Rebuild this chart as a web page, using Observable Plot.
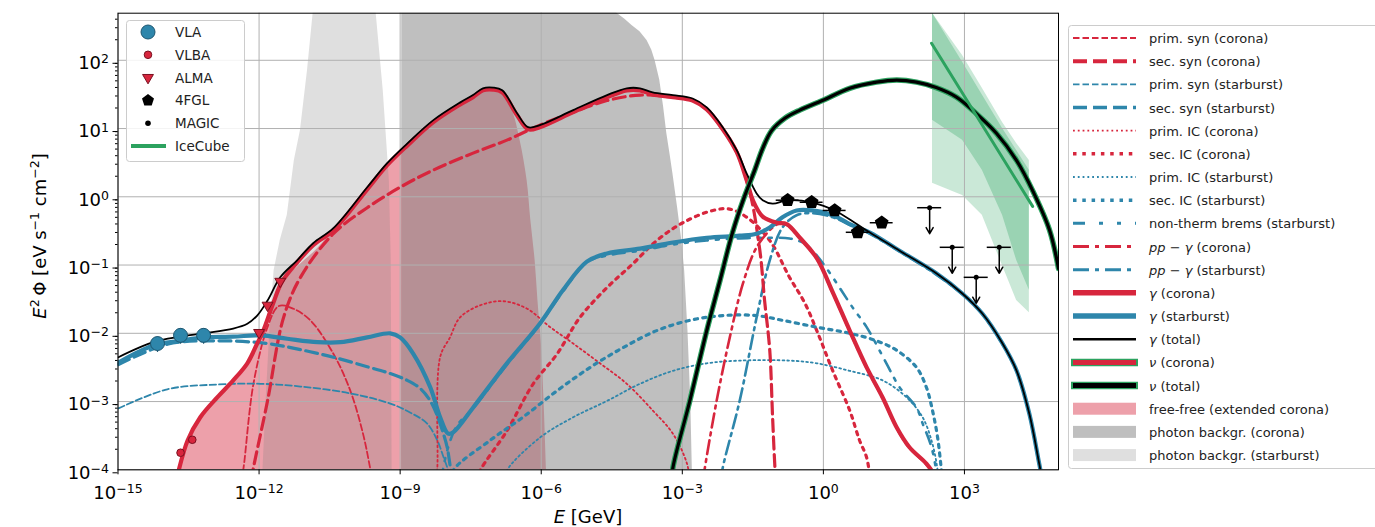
<!DOCTYPE html>
<html><head><meta charset="utf-8">
<script src="https://cdn.jsdelivr.net/npm/d3@7"></script>
<script src="https://cdn.jsdelivr.net/npm/@observablehq/plot@0.6"></script>
<style>
body{margin:0;background:#fff;font-family:"DejaVu Sans",sans-serif;}
#wrap{position:relative;width:1375px;height:527px;overflow:hidden;background:#fff;}
#wrap svg{position:absolute;left:0;top:0;}
</style></head><body><div id="wrap"></div>
<script>
// All curves: [log10 E/GeV, log10 E^2 Phi / (eV s^-1 cm^-2)]
const gammaTotal = [[-14.99,-2.35],[-14.25,-2.13],[-13.67,-2.05],[-13.18,-2.00],[-12.55,-1.93],[-12.25,-1.86],[-12.04,-1.74],[-11.82,-1.52],[-11.55,-1.18],[-11.19,-0.93],[-10.85,-0.68],[-10.42,-0.46],[-9.70,0.14],[-9.28,0.49],[-8.85,0.78],[-8.30,1.12],[-7.73,1.38],[-7.45,1.49],[-7.24,1.59],[-7.02,1.60],[-6.83,1.56],[-6.51,1.22],[-6.28,1.02],[-6.03,1.05],[-5.32,1.27],[-4.60,1.49],[-4.18,1.59],[-3.90,1.59],[-3.63,1.53],[-3.20,1.49],[-2.78,1.44],[-2.48,1.31],[-2.14,1.02],[-1.84,0.68],[-1.63,0.34],[-1.42,0.05],[-1.29,-0.05],[-1.08,-0.10],[-0.76,-0.05],[-0.25,-0.08],[0.24,-0.20],[0.71,-0.40],[0.98,-0.52],[1.62,-0.79],[2.40,-1.12],[2.96,-1.42],[3.38,-1.71],[3.81,-2.15],[4.11,-2.55],[4.38,-3.18],[4.59,-3.91],[4.66,-4.16]];
const gammaCorona = [[-13.76,-4.16],[-13.71,-4.01],[-13.52,-3.57],[-13.25,-3.23],[-12.89,-2.94],[-12.55,-2.69],[-12.25,-2.44],[-12.04,-2.15],[-11.91,-1.96],[-11.70,-1.56],[-11.51,-1.24],[-11.19,-0.96],[-10.85,-0.71],[-10.42,-0.49],[-9.70,0.11],[-9.28,0.46],[-8.85,0.75],[-8.30,1.09],[-7.73,1.35],[-7.45,1.46],[-7.24,1.56],[-7.02,1.57],[-6.83,1.53],[-6.51,1.19],[-6.28,0.99],[-6.03,1.02],[-5.32,1.24],[-4.60,1.46],[-4.18,1.56],[-3.90,1.56],[-3.63,1.50],[-3.20,1.46],[-2.78,1.41],[-2.48,1.28],[-2.14,0.99],[-1.84,0.65],[-1.63,0.24],[-1.50,-0.05],[-1.29,-0.29],[-0.99,-0.38],[-0.78,-0.40],[-0.50,-0.60],[-0.14,-0.90],[0.20,-1.40],[0.56,-1.96],[0.92,-2.50],[1.26,-2.94],[1.56,-3.38],[1.83,-3.67],[2.19,-3.91],[2.36,-4.08],[2.40,-4.2]];
const gammaStarburst = [[-14.99,-2.43],[-14.25,-2.18],[-13.67,-2.11],[-13.18,-2.06],[-12.55,-2.05],[-11.97,-2.03],[-11.40,-2.08],[-10.76,-2.13],[-10.27,-2.13],[-9.70,-2.06],[-9.21,-2.00],[-9.00,-2.06],[-8.72,-2.30],[-8.36,-2.79],[-8.15,-3.23],[-7.98,-3.47],[-7.87,-3.45],[-7.45,-3.09],[-6.73,-2.44],[-6.03,-1.86],[-5.54,-1.37],[-5.03,-0.95],[-4.60,-0.83],[-3.90,-0.76],[-3.20,-0.67],[-2.48,-0.60],[-1.78,-0.57],[-1.42,-0.54],[-1.14,-0.45],[-0.87,-0.30],[-0.57,-0.20],[-0.23,-0.20],[0.20,-0.27],[0.62,-0.42],[0.98,-0.52],[1.62,-0.79],[2.40,-1.12],[2.96,-1.42],[3.38,-1.71],[3.81,-2.15],[4.11,-2.55],[4.38,-3.18],[4.59,-3.91],[4.66,-4.16]];
const secSynStarburst = [[-14.99,-2.46],[-13.95,-2.16],[-12.89,-2.11],[-11.82,-2.15],[-11.12,-2.24],[-10.42,-2.35],[-9.70,-2.49],[-9.21,-2.59],[-8.85,-2.69],[-8.57,-2.81],[-8.36,-2.99],[-8.21,-3.21],[-8.09,-3.45],[-8.00,-3.67],[-7.92,-4.01],[-7.87,-4.16]];
const primSynStarburst = [[-14.99,-3.10],[-13.95,-2.82],[-12.89,-2.75],[-11.97,-2.74],[-11.12,-2.78],[-10.06,-2.88],[-9.21,-3.03],[-8.79,-3.16],[-8.43,-3.32],[-8.21,-3.57],[-8.09,-3.79],[-7.98,-4.01],[-7.94,-4.16]];
const primSynCorona = [[-12.38,-4.16],[-12.33,-3.97],[-12.12,-2.74],[-11.82,-1.91],[-11.58,-1.60],[-11.27,-1.64],[-10.91,-1.81],[-10.42,-2.30],[-10.06,-2.84],[-9.79,-3.47],[-9.64,-3.97],[-9.59,-4.16]];
const secSynCorona = [[-12.17,-4.16],[-12.12,-3.97],[-11.82,-2.99],[-11.48,-1.77],[-11.12,-1.18],[-10.42,-0.54],[-9.70,-0.16],[-9.00,0.14],[-8.30,0.39],[-7.45,0.64],[-6.73,0.83],[-6.03,1.05],[-5.32,1.24],[-4.60,1.41],[-3.90,1.49],[-3.20,1.46],[-2.78,1.41],[-2.48,1.28],[-2.14,0.99],[-1.84,0.65],[-1.57,0.09],[-1.35,-0.79],[-1.25,-1.52],[-1.14,-2.25],[-1.08,-3.23],[-1.03,-3.97],[-1.01,-4.16]];
const primICCorona = [[-8.24,-4.16],[-8.21,-3.97],[-8.15,-2.35],[-7.94,-2.06],[-7.73,-1.77],[-7.30,-1.59],[-6.81,-1.53],[-6.30,-1.64],[-5.81,-1.91],[-5.32,-2.15],[-4.75,-2.44],[-4.18,-2.74],[-3.63,-3.13],[-3.20,-3.47],[-2.90,-3.91],[-2.84,-4.16]];
const secICCorona = [[-7.38,-4.16],[-7.30,-4.01],[-6.73,-3.43],[-6.17,-2.74],[-5.66,-2.30],[-5.18,-1.77],[-4.60,-1.33],[-4.05,-0.98],[-3.54,-0.64],[-2.99,-0.38],[-2.35,-0.20],[-1.99,-0.18],[-1.63,-0.30],[-1.14,-0.64],[-0.72,-1.18],[-0.40,-1.55],[-0.14,-1.96],[0.20,-2.55],[0.56,-3.13],[0.77,-3.57],[0.92,-3.82],[1.0,-4.16]];
const primICStarburst = [[-6.77,-4.16],[-6.73,-4.01],[-6.03,-3.53],[-5.32,-3.23],[-4.60,-2.99],[-3.90,-2.74],[-3.20,-2.55],[-2.48,-2.44],[-1.78,-2.40],[-0.72,-2.40],[-0.14,-2.44],[0.56,-2.55],[1.26,-2.69],[1.77,-2.94],[2.11,-3.23],[2.32,-3.62],[2.43,-4.01],[2.45,-4.16]];
const secICStarburst = [[-7.89,-4.16],[-7.87,-4.01],[-7.09,-3.57],[-6.39,-3.23],[-5.66,-2.84],[-4.96,-2.50],[-4.26,-2.21],[-3.54,-1.96],[-2.84,-1.81],[-2.14,-1.74],[-1.42,-1.74],[-0.87,-1.81],[-0.14,-1.91],[0.56,-2.00],[1.13,-2.11],[1.56,-2.25],[1.98,-2.50],[2.19,-2.79],[2.32,-3.13],[2.43,-3.53],[2.51,-4.01],[2.53,-4.16]];
const bremsStarburst = [[-8.13,-4.16],[-8.00,-3.72],[-7.79,-3.35],[-7.45,-3.10],[-6.73,-2.46],[-6.03,-1.87],[-5.54,-1.39],[-5.03,-0.96],[-4.60,-0.86],[-3.90,-0.79],[-3.20,-0.70],[-2.48,-0.64],[-1.78,-0.61],[-1.14,-0.60],[-0.72,-0.61],[-0.44,-0.67],[-0.23,-0.79],[0.07,-1.05],[0.62,-1.62],[0.92,-1.91],[1.34,-2.44],[1.62,-2.79],[1.98,-3.09],[2.11,-3.32],[2.30,-3.67],[2.40,-4.01],[2.43,-4.16]];
const ppCorona = [[-2.56,-4.16],[-2.52,-3.97],[-2.27,-2.99],[-1.99,-2.06],[-1.71,-1.27],[-1.42,-0.74],[-1.08,-0.45],[-0.93,-0.39],[-0.78,-0.41],[-0.50,-0.61],[-0.14,-0.91],[0.20,-1.41],[0.56,-1.97],[0.92,-2.51],[1.26,-2.95],[1.56,-3.39],[1.83,-3.68],[2.19,-3.92],[2.36,-4.1]];
const ppStarburst = [[-2.18,-4.16],[-2.14,-3.97],[-1.78,-2.99],[-1.42,-1.77],[-1.14,-0.93],[-0.87,-0.45],[-0.57,-0.27],[-0.23,-0.24],[0.20,-0.30],[0.62,-0.43],[0.98,-0.54],[1.62,-0.80],[2.40,-1.14],[2.96,-1.43],[3.38,-1.72],[3.81,-2.16],[4.11,-2.56],[4.38,-3.19],[4.59,-3.93],[4.66,-4.16]];
const nuTotal = [[-3.22,-4.16],[-3.20,-3.97],[-2.84,-2.99],[-2.48,-1.96],[-2.20,-1.23],[-1.93,-0.52],[-1.69,-0.02],[-1.46,0.39],[-1.29,0.71],[-1.10,0.97],[-0.82,1.15],[-0.50,1.27],[-0.02,1.41],[0.56,1.59],[1.13,1.68],[1.56,1.71],[1.98,1.68],[2.40,1.60],[2.83,1.46],[3.25,1.22],[3.68,0.93],[4.11,0.53],[4.45,0.09],[4.81,-0.49],[5.0,-1.05]];
// shaded regions: upper edge [log10 E, log10 E^2 Phi]
const freeFree = [[-13.76,-4.16],[-13.71,-4.01],[-13.52,-3.57],[-13.25,-3.23],[-12.89,-2.94],[-12.55,-2.69],[-12.25,-2.44],[-12.04,-2.15],[-11.91,-1.96],[-11.70,-1.56],[-11.51,-1.26],[-11.12,-0.99],[-10.76,-0.76],[-10.27,-0.35],[-9.70,0.08],[-9.28,0.43],[-9.00,0.64],[-8.57,0.90],[-8.15,1.13],[-7.73,1.33],[-7.45,1.43],[-7.24,1.53],[-7.02,1.56],[-6.83,1.50],[-6.62,1.27],[-6.45,0.83],[-6.30,0.24],[-6.22,-0.35],[-6.13,-0.93],[-6.07,-1.52],[-6.00,-2.11],[-5.94,-2.99],[-5.88,-4.16]];
const photonStarburst = [[-11.93,-4.2],[-11.85,-2.99],[-11.76,-1.81],[-11.68,-1.08],[-11.55,-0.64],[-11.40,-0.27],[-11.25,0.53],[-11.12,0.97],[-10.97,1.85],[-10.85,2.69],[-10.74,3.3],[-9.59,3.3],[-9.51,2.69],[-9.36,1.56],[-9.23,0.24],[-9.19,-0.93],[-9.17,-4.2]];
const photonCorona = [[-8.97,-4.2],[-8.965,3.3],[-4.54,3.3],[-4.39,2.69],[-4.22,2.60],[-4.07,2.51],[-3.90,2.42],[-3.75,2.29],[-3.65,2.15],[-3.58,2.0],[-3.48,1.71],[-3.40,1.33],[-3.33,0.93],[-3.26,0.62],[-3.20,0.34],[-3.10,-0.16],[-3.01,-0.64],[-2.95,-1.08],[-2.88,-1.96],[-2.82,-2.99],[-2.78,-4.2]];
// IceCube: best fit and bands [log10 E, lower, upper]
const iceCubeLine = [[2.30,2.25],[4.45,-0.14]];
const iceCubeOuter = [[2.32,0.20,2.69],[2.96,0.02,2.07],[3.38,-0.27,1.59],[3.81,-1.01,1.09],[4.11,-1.52,0.78],[4.38,-1.70,0.53]];
const iceCubeInner = [[2.32,1.12,2.69],[2.96,0.83,1.97],[3.38,0.39,1.49],[3.81,-0.27,1.00],[4.11,-0.93,0.68],[4.38,-1.37,0.39]];
// data points [log10 E, log10 flux]
const vla = [[-14.16,-2.15],[-13.67,-2.03],[-13.18,-2.03]];
const vlba = [[-13.67,-3.75],[-13.42,-3.56]];
const alma = [[-12.0,-1.99],[-11.82,-1.59],[-11.55,-1.24]];
const fgl = [[-0.76,-0.05],[-0.25,-0.08],[0.24,-0.20],[0.73,-0.52],[1.24,-0.38]];
const magicUL = [[2.26,-0.16],[2.74,-0.74],[3.25,-1.18],[3.74,-0.74]];
const xTickExp = [-15,-12,-9,-6,-3,0,3];
const yTickExp = [-4,-3,-2,-1,0,1,2];
const dataLegend = ["VLA","VLBA","ALMA","4FGL","MAGIC","IceCube"];
const modelLegend = ["prim. syn (corona)","sec. syn (corona)","prim. syn (starburst)","sec. syn (starburst)","prim. IC (corona)","sec. IC (corona)","prim. IC (starburst)","sec. IC (starburst)","non-therm brems (starburst)","pp − γ (corona)","pp − γ (starburst)","γ (corona)","γ (starburst)","γ (total)","ν (corona)","ν (total)","free-free (extended corona)","photon backgr. (corona)","photon backgr. (starburst)"];

const RED="#d7263d", BLUE="#2e86ab", GREEN="#2ca25f", DRED="#7a1020", DBLUE="#1d5670";
const rows = a => a.map(([e,f]) => ({E:10**e, F:10**f}));
const band = a => a.map(([e,lo,hi]) => ({E:10**e, lo:10**lo, hi:10**hi}));
const L = (arr, stroke, w, dash, extra={}) => Plot.line(rows(arr), {x:"E", y:"F", stroke, strokeWidth:w, strokeDasharray:dash, curve:"catmull-rom", clip:true, strokeLinejoin:"round", ...extra});
const A = (arr, fill, op, curve="linear") => Plot.areaY(rows(arr), {x:"E", y1:1e-6, y2:"F", fill, fillOpacity:op, curve, clip:true});

const pentagon = {draw(ctx,size){const r=Math.sqrt(size/Math.PI)*1.15;for(let i=0;i<5;i++){const a=-Math.PI/2+i*2*Math.PI/5;const x=r*Math.cos(a),y=r*Math.sin(a);i?ctx.lineTo(x,y):ctx.moveTo(x,y);}ctx.closePath();}};
const triDown = {draw(ctx,size){const r=Math.sqrt(size/Math.PI)*1.25;ctx.moveTo(-r*0.87,-r*0.5);ctx.lineTo(r*0.87,-r*0.5);ctx.lineTo(0,r);ctx.closePath();}};

const supFmt = d => "10^" + String(Math.round(Math.log10(d))).replace("-","\u2212");
const yMinor = [];
for (let k=-4;k<=2;k++) for (let m=2;m<=9;m++){ if (m*10**k < 10**2.69) yMinor.push(m*10**k); }

const chart = Plot.plot({
  width:1375, height:527, marginLeft:117.5, marginRight:317, marginTop:12.7, marginBottom:57.7,
  x:{type:"log", domain:[1e-15,1e5]},
  y:{type:"log", domain:[1e-4,10**2.69]},
  style:{fontFamily:"DejaVu Sans", fontSize:"18px", background:"transparent", color:"black"},
  marks:[
    A(freeFree, RED, 0.44, "catmull-rom"),
    A(photonStarburst, "#808080", 0.25),
    A(photonCorona, "#808080", 0.5),
    Plot.areaY(band(iceCubeOuter), {x:"E", y1:"lo", y2:"hi", fill:GREEN, fillOpacity:0.25, clip:true}),
    Plot.areaY(band(iceCubeInner), {x:"E", y1:"lo", y2:"hi", fill:GREEN, fillOpacity:0.3, clip:true}),
    Plot.gridX(xTickExp.map(e=>10**e), {stroke:"#b0b0b0", strokeOpacity:1, strokeWidth:1}),
    Plot.gridY(yTickExp.map(e=>10**e), {stroke:"#b0b0b0", strokeOpacity:1, strokeWidth:1}),
    L(primSynCorona, RED, 1.8, "6.5,3"),
    L(primSynStarburst, BLUE, 1.8, "6.5,3"),
    L(primICCorona, RED, 1.8, "1.8,3"),
    L(primICStarburst, BLUE, 1.8, "1.8,3"),
    L(secICCorona, RED, 3.2, "3.2,5.3", {strokeLinejoin:"miter"}),
    L(secICStarburst, BLUE, 3.2, "3.2,5.3", {strokeLinejoin:"miter"}),
    L(bremsStarburst, BLUE, 2.6, "12,8,3,8,3,8"),
    L(ppCorona, RED, 2.6, "14,5,3,5"),
    L(ppStarburst, BLUE, 2.6, "14,5,3,5"),
    L(secSynCorona, RED, 3.2, "12,5.5"),
    L(secSynStarburst, BLUE, 3.2, "12,5.5"),
    L(gammaStarburst, BLUE, 4.2, null),
    L(gammaCorona, RED, 4.2, null),
    L(gammaTotal, "black", 1.8, null),
    L(nuTotal, GREEN, 5.5, null),
    L(nuTotal, "black", 3.2, null),
    L(iceCubeLine, GREEN, 3, null, {curve:"linear"}),
    // data points
    Plot.ruleX(rows(vla), {x:"E", y1:d=>d.F/1.35, y2:d=>d.F*1.25, stroke:DBLUE, strokeWidth:1.2}),
    Plot.dot(rows(vla), {x:"E", y:"F", r:7, fill:BLUE, stroke:DBLUE, strokeWidth:1}),
    Plot.dot(rows(vlba), {x:"E", y:"F", r:3.8, fill:RED, stroke:DRED, strokeWidth:1}),
    Plot.dot(rows(alma), {x:"E", y:"F", r:5, symbol:triDown, fill:RED, stroke:DRED, strokeWidth:1}),
    Plot.ruleY(rows(fgl), {y:"F", x1:d=>d.E/1.75, x2:d=>d.E*1.75, stroke:"black", strokeWidth:1.5}),
    Plot.ruleX(rows(fgl), {x:"E", y1:d=>d.F/1.15, y2:d=>d.F*1.15, stroke:"black", strokeWidth:1.5}),
    Plot.dot(rows(fgl), {x:"E", y:"F", r:5.5, symbol:pentagon, fill:"black", stroke:"black"}),
    Plot.ruleY(rows(magicUL), {y:"F", x1:d=>d.E/1.8, x2:d=>d.E*1.8, stroke:"black", strokeWidth:1.5}),
    Plot.arrow(rows(magicUL), {x1:"E", y1:"F", x2:"E", y2:d=>d.F/2.4, stroke:"black", strokeWidth:1.5, headLength:7}),
    Plot.dot(rows(magicUL), {x:"E", y:"F", r:2.5, fill:"black"}),
    Plot.frame({stroke:"black", strokeWidth:1}),
    Plot.axisX(xTickExp.map(e=>10**e), {tickSize:5, tickPadding:11, fontSize:18, tickFormat:supFmt, label:null}),
    Plot.axisY(yTickExp.map(e=>10**e), {tickSize:5, tickPadding:4, fontSize:18, tickFormat:supFmt, label:null, dy:3}),
    Plot.axisY(yMinor, {tickSize:2.5, tickFormat:()=>"", label:null})
  ]
});
document.getElementById("wrap").appendChild(chart);

// superscripted tick labels
chart.querySelectorAll("text").forEach(t => {
  const m = /^10\^(.+)$/.exec(t.textContent);
  if (!m) return;
  t.textContent = "";
  const a = document.createElementNS("http://www.w3.org/2000/svg","tspan"); a.textContent = "10"; t.appendChild(a);
  const b = document.createElementNS("http://www.w3.org/2000/svg","tspan"); b.textContent = m[1];
  b.setAttribute("dy","-0.45em"); b.setAttribute("font-size","12.5px"); t.appendChild(b);
});

// overlay: axis labels and legends
const W=1375,H=527;
const ov = d3.select("#wrap").append("svg").attr("width",W).attr("height",H)
  .style("font-family","DejaVu Sans").style("pointer-events","none");
const yl = ov.append("text").attr("transform","translate(46,236) rotate(-90)").attr("text-anchor","middle").attr("font-size",18);
yl.append("tspan").attr("font-style","italic").text("E");
yl.append("tspan").attr("dy",-7).attr("font-size",12.5).text("2");
yl.append("tspan").attr("dy",7).text("\u2009Φ [eV s");
yl.append("tspan").attr("dy",-7).attr("font-size",12.5).text("\u22121");
yl.append("tspan").attr("dy",7).text(" cm");
yl.append("tspan").attr("dy",-7).attr("font-size",12.5).text("\u22122");
yl.append("tspan").attr("dy",7).text("]");
const xl = ov.append("text").attr("x",588).attr("y",523).attr("text-anchor","middle").attr("font-size",18);
xl.append("tspan").attr("font-style","italic").text("E");
xl.append("tspan").text(" [GeV]");

// data legend (upper left)
const g1 = ov.append("g");
g1.append("rect").attr("x",126.5).attr("y",20.5).attr("width",118).attr("height",141).attr("rx",3)
  .attr("fill","white").attr("fill-opacity",0.85).attr("stroke","#cccccc");
dataLegend.forEach((lab,i) => {
  const y = 32 + i*22.8, cx = 148;
  const gg = g1.append("g");
  if (i===0) gg.append("circle").attr("cx",cx).attr("cy",y).attr("r",7).attr("fill",BLUE).attr("stroke",DBLUE);
  if (i===1) gg.append("circle").attr("cx",cx).attr("cy",y).attr("r",3.8).attr("fill",RED).attr("stroke",DRED);
  if (i===2) gg.append("path").attr("transform",`translate(${cx},${y})`).attr("d",d3.symbol(triDown,Math.PI*25)()).attr("fill",RED).attr("stroke",DRED);
  if (i===3) gg.append("path").attr("transform",`translate(${cx},${y})`).attr("d",d3.symbol(pentagon,Math.PI*30)()).attr("fill","black");
  if (i===4) gg.append("circle").attr("cx",cx).attr("cy",y).attr("r",2.8).attr("fill","black");
  if (i===5) gg.append("line").attr("x1",131).attr("x2",166).attr("y1",y).attr("y2",y).attr("stroke",GREEN).attr("stroke-width",4);
  g1.append("text").attr("x",175).attr("y",y+5).attr("font-size",13.5).attr("fill","#222").text(lab);
});

// model legend (right)
const g2 = ov.append("g");
g2.append("rect").attr("x",1068.5).attr("y",25.5).attr("width",320).attr("height",443).attr("rx",3)
  .attr("fill","white").attr("stroke","#cccccc");
const sw = [
  {c:RED,w:1.8,d:"6.5,3"},{c:RED,w:4,d:"14,6"},{c:BLUE,w:1.8,d:"6.5,3"},{c:BLUE,w:3.5,d:"14,6"},
  {c:RED,w:1.8,d:"1.8,3"},{c:RED,w:3.5,d:"3.5,5.8"},{c:BLUE,w:1.8,d:"1.8,3"},{c:BLUE,w:3.5,d:"3.5,5.8"},
  {c:BLUE,w:3,d:"12,14,4,14,4,14"},{c:RED,w:3,d:"16,6,4,6"},{c:BLUE,w:3,d:"16,6,4,6"},
  {c:RED,w:5.5},{c:BLUE,w:5.5},{c:"black",w:2.5},{c:RED,w:5,o:GREEN},{c:"black",w:5,o:GREEN},
  {f:RED,fo:0.44},{f:"#808080",fo:0.5},{f:"#808080",fo:0.25}
];
modelLegend.forEach((lab,i) => {
  const y = 38 + i*23.17, x1=1073, x2=1136;
  const s = sw[i];
  if (s.f) g2.append("rect").attr("x",x1).attr("y",y-6).attr("width",x2-x1).attr("height",12).attr("fill",s.f).attr("fill-opacity",s.fo);
  else {
    if (s.o) g2.append("line").attr("x1",x1-2).attr("x2",x2+2).attr("y1",y).attr("y2",y).attr("stroke",s.o).attr("stroke-width",s.w+2.5);
    g2.append("line").attr("x1",x1).attr("x2",x2).attr("y1",y).attr("y2",y).attr("stroke",s.c).attr("stroke-width",s.w).attr("stroke-dasharray",s.d||null);
  }
  const t = g2.append("text").attr("x",1149).attr("y",y+5).attr("font-size",13).attr("fill","#222");
  if (lab.startsWith("pp")) {
    t.append("tspan").attr("font-style","italic").text("pp");
    t.append("tspan").text(" − ");
    t.append("tspan").attr("font-style","italic").text("γ");
    t.append("tspan").text(" " + lab.split("γ ")[1]);
  } else if (lab.startsWith("γ") || lab.startsWith("ν")) {
    t.append("tspan").attr("font-style","italic").text(lab[0]);
    t.append("tspan").text(lab.slice(1));
  } else t.text(lab);
});
</script></body></html>
